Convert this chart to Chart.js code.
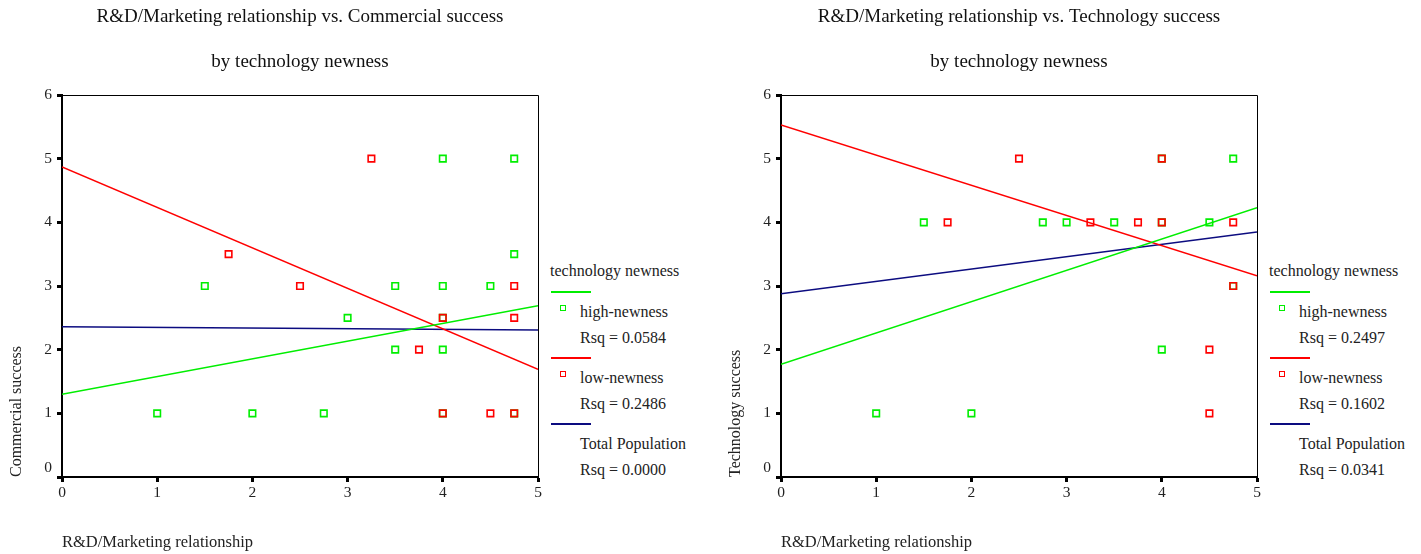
<!DOCTYPE html>
<html>
<head>
<meta charset="utf-8">
<script src="https://cdn.jsdelivr.net/npm/chart.js@4.4.1/dist/chart.umd.min.js"></script>
<style>
  body { margin: 0; background: #fff; width: 1421px; height: 554px; overflow: hidden; position: relative; font-family: "Liberation Serif", serif; color: #222; }
  .painel { position: absolute; top: 0; width: 545px; height: 554px; }
  .legenda { position: absolute; top: 0; width: 150px; height: 554px; font-size: 16px; }
  .legenda span { position: absolute; white-space: nowrap; line-height: 18px; }
  .legenda .linha { position: absolute; width: 40px; height: 1.5px; }
  .legenda .marca { position: absolute; width: 4px; height: 4px; }
</style>
</head>
<body>
<div class="painel" style="left:0"><canvas id="chartComercial" width="545" height="554"></canvas></div>
<div class="painel" style="left:719px"><canvas id="chartTecnologia" width="545" height="554"></canvas></div>
<div class="legenda" id="legComercial" style="left:550px"></div>
<div class="legenda" id="legTecnologia" style="left:1269px"></div>
<script>
const ticksX = [0, 1, 2, 3, 4, 5];
const ticksY = [0, 1, 2, 3, 4, 5, 6];

const GREEN = '#00ee00';
const RED = '#ff0000';
const NAVY = '#0c0c80';

// Commercial success
const comHighX = [1, 1.5, 2, 2.75, 3, 3.5, 3.5, 4, 4, 4, 4, 4, 4.5, 4.75, 4.75, 4.75];
const comHighY = [1, 3, 1, 1, 2.5, 3, 2, 5, 3, 2.5, 2, 1, 3, 5, 3.5, 1];
const comLowX = [1.75, 2.5, 3.25, 3.75, 4, 4, 4.5, 4.75, 4.75, 4.75];
const comLowY = [3.5, 3, 5, 2, 2.5, 1, 1, 3, 2.5, 1];
// fit lines, value at x = 0 and x = 5
const comFitHigh = [1.30, 2.69];
const comFitLow = [4.87, 1.69];
const comFitTotal = [2.36, 2.31];
const comRsq = ['0.0584', '0.2486', '0.0000'];

// Technology success
const tecHighX = [1, 1.5, 2, 2.75, 3, 3.5, 4, 4, 4, 4.5, 4.75, 4.75];
const tecHighY = [1, 4, 1, 4, 4, 4, 5, 4, 2, 4, 5, 3];
const tecLowX = [1.75, 2.5, 3.25, 3.75, 4, 4, 4.5, 4.5, 4.75, 4.75];
const tecLowY = [4, 5, 4, 4, 5, 4, 2, 1, 4, 3];
const tecFitHigh = [1.77, 4.23];
const tecFitLow = [5.53, 3.16];
const tecFitTotal = [2.88, 3.85];
const tecRsq = ['0.2497', '0.1602', '0.0341'];

const groupLabels = ['high-newness', 'low-newness', 'Total Population'];

function toPoints(xs, ys) {
  return xs.map((x, i) => ({ x, y: ys[i] }));
}

function fitLine(ends, color) {
  return {
    data: [{ x: ticksX[0], y: ends[0] }, { x: ticksX[ticksX.length - 1], y: ends[1] }],
    showLine: true,
    borderColor: color,
    borderWidth: 1.5,
    pointRadius: 0,
    order: 2
  };
}

function scatterSet(xs, ys, color, order) {
  return {
    data: toPoints(xs, ys),
    pointStyle: 'rect',
    pointRadius: 4.6,
    borderWidth: 1.6,
    borderColor: color,
    backgroundColor: 'rgba(0,0,0,0)',
    order
  };
}

// thin frame on the top and right sides of the plot
const framePlugin = {
  id: 'frame',
  afterDatasetsDraw(chart) {
    const { ctx, chartArea: a } = chart;
    ctx.save();
    ctx.strokeStyle = '#000';
    ctx.lineWidth = 1;
    ctx.beginPath();
    ctx.moveTo(a.left, a.top + 0.5);
    ctx.lineTo(a.right + 0.5, a.top + 0.5);
    ctx.lineTo(a.right + 0.5, a.bottom);
    ctx.stroke();
    ctx.restore();
  }
};

function renderChart(id, title, yTitle, high, low, fits) {
  const family = '"Liberation Serif", serif';
  const font = { family, size: 15.5 };
  new Chart(document.getElementById(id), {
    type: 'scatter',
    data: {
      datasets: [
        scatterSet(high[0], high[1], GREEN, 1),
        scatterSet(low[0], low[1], RED, 0),
        fitLine(fits[0], GREEN),
        fitLine(fits[1], RED),
        fitLine(fits[2], NAVY)
      ]
    },
    options: {
      responsive: false,
      animation: false,
      layout: { padding: { top: 0, right: 7, bottom: 0, left: 0 } },
      plugins: {
        legend: { display: false },
        tooltip: { enabled: false },
        title: {
          display: true,
          text: title,
          fullSize: false,
          color: '#111',
          font: { family, size: 19, weight: 'normal' },
          padding: { top: 5.6, bottom: 22.2 }
        },
        subtitle: {
          display: true,
          text: 'by technology newness',
          fullSize: false,
          color: '#111',
          font: { family, size: 19, weight: 'normal' },
          padding: { top: 0, bottom: 21.6 }
        }
      },
      scales: {
        x: {
          type: 'linear',
          min: ticksX[0],
          max: ticksX[ticksX.length - 1],
          afterBuildTicks: scale => { scale.ticks = ticksX.map(value => ({ value })); },
          afterFit: scale => { scale.height = 77; },
          grid: { drawOnChartArea: false, tickLength: 5, tickWidth: 3, tickColor: '#000' },
          border: { color: '#000', width: 2 },
          ticks: { color: '#222', font, padding: 2, maxRotation: 0 },
          title: {
            display: true,
            text: 'R&D/Marketing relationship',
            align: 'start',
            color: '#222',
            font: { family, size: 16.5 },
            padding: { top: 0, bottom: 1.5 }
          }
        },
        y: {
          type: 'linear',
          min: ticksY[0],
          max: ticksY[ticksY.length - 1],
          afterBuildTicks: scale => { scale.ticks = ticksY.map(value => ({ value })); },
          afterFit: scale => { scale.width = 62; },
          grid: { drawOnChartArea: false, tickLength: 5, tickWidth: 3, tickColor: '#000' },
          border: { color: '#000', width: 2 },
          ticks: {
            color: '#222',
            font: { ...font, lineHeight: 1.15 },
            padding: 5,
            // the zero label sits a little above its tick
            callback: value => (value === 0 ? ['0', ''] : String(value))
          },
          title: {
            display: true,
            text: yTitle,
            align: 'start',
            color: '#222',
            font: { family, size: 16 },
            padding: { top: 7.5, bottom: 0 }
          }
        }
      }
    },
    plugins: [framePlugin]
  });
}

function renderLegend(id, rsq) {
  const box = document.getElementById(id);
  const colors = [GREEN, RED, NAVY];
  let html = '<span style="left:0;top:262px">technology newness</span>';
  colors.forEach((color, i) => {
    const base = 292 + i * 66;
    html += `<div class="linha" style="left:1px;top:${base - 1}px;background:${color}"></div>`;
    if (i < 2) {
      html += `<div class="marca" style="left:10px;top:${base + 13}px;border:1.5px solid ${color}"></div>`;
    }
    html += `<span style="left:30px;top:${base + 11}px">${groupLabels[i]}</span>`;
    html += `<span style="left:30px;top:${base + 37}px">Rsq = ${rsq[i]}</span>`;
  });
  box.innerHTML = html;
}

renderChart('chartComercial', 'R&D/Marketing relationship vs. Commercial success', 'Commercial success',
  [comHighX, comHighY], [comLowX, comLowY], [comFitHigh, comFitLow, comFitTotal]);
renderChart('chartTecnologia', 'R&D/Marketing relationship vs. Technology success', 'Technology success',
  [tecHighX, tecHighY], [tecLowX, tecLowY], [tecFitHigh, tecFitLow, tecFitTotal]);

renderLegend('legComercial', comRsq);
renderLegend('legTecnologia', tecRsq);
</script>
</body>
</html>
